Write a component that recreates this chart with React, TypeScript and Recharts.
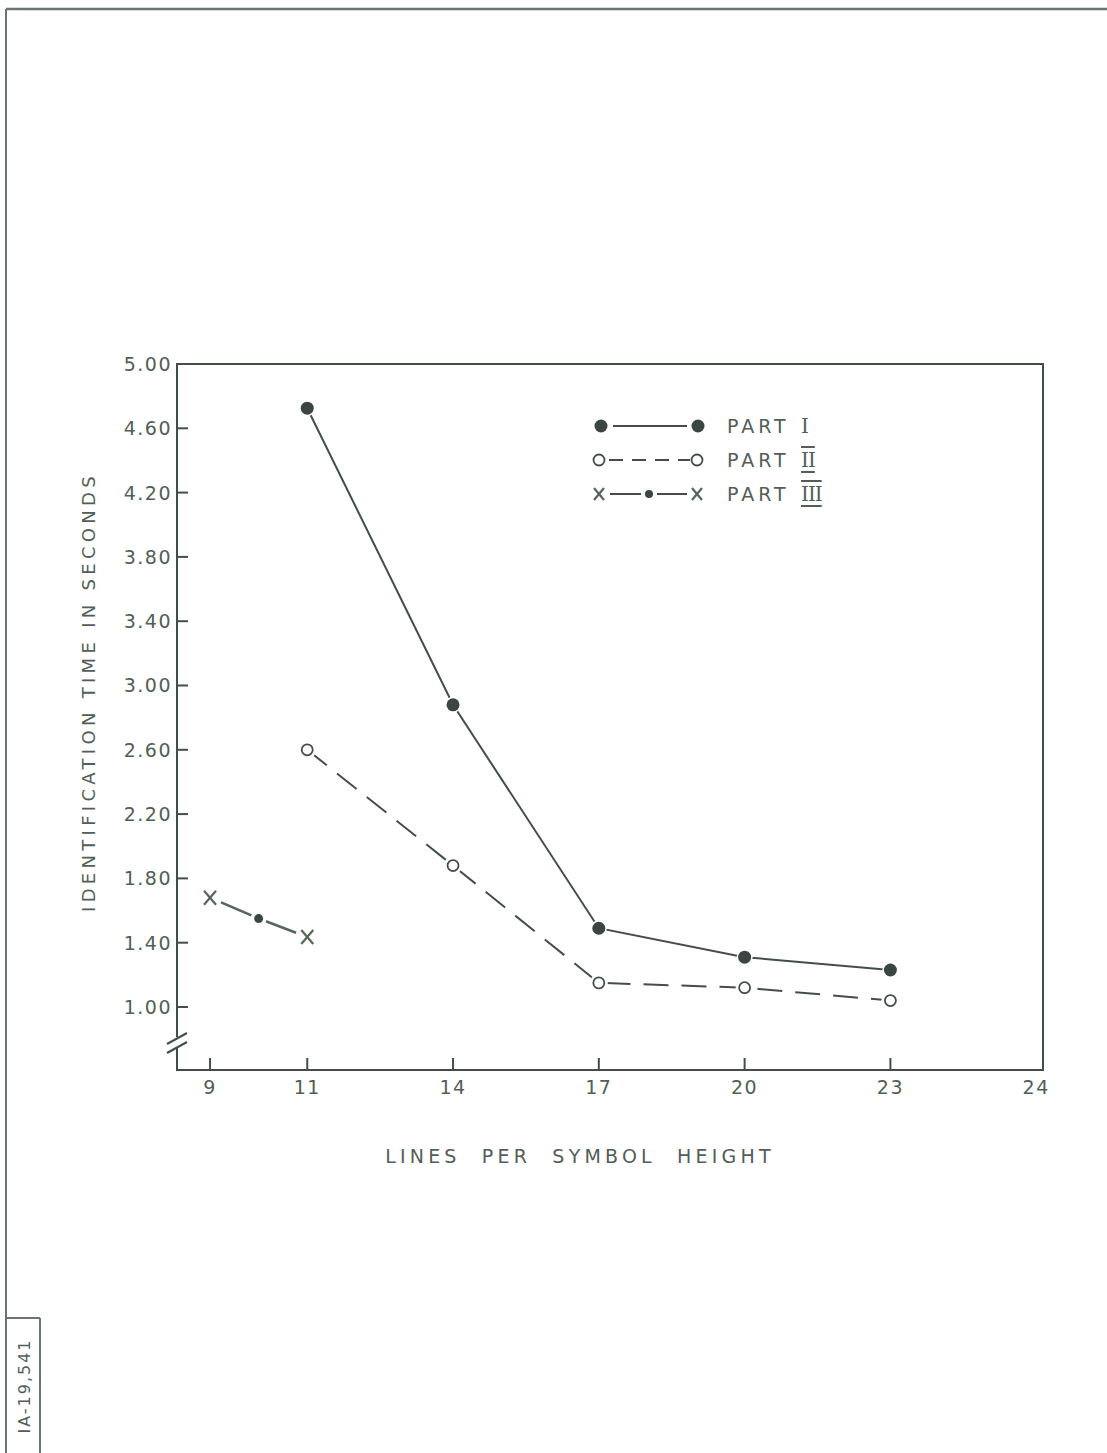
import React from "react";
import { LineChart, Line, XAxis, YAxis, ReferenceArea } from "recharts";

// lines per symbol height (24 sits where 26 would be on the scale)
const partOneX = [11, 14, 17, 20, 23];
const partOneY = [4.725, 2.88, 1.49, 1.31, 1.23];
const partTwoX = [11, 14, 17, 20, 23];
const partTwoY = [2.6, 1.88, 1.15, 1.12, 1.04];
const partThreeX = [9, 10, 11];
const partThreeY = [1.68, 1.55, 1.435];

const xTicks = [9, 11, 14, 17, 20, 23, 26];
const xTickLabels = ["9", "11", "14", "17", "20", "23", "24"];
const yTicks = [1.0, 1.4, 1.8, 2.2, 2.6, 3.0, 3.4, 3.8, 4.2, 4.6, 5.0];
const xDomain = [8.32, 26.14];
const yDomain = [0.608, 5.0];

const INK = "#434e47";
const TEXT = "#525e56";
const FONT = "'DejaVu Sans', sans-serif";

const toRows = (xs: number[], ys: number[]) => xs.map((x, i) => ({ x, y: ys[i] }));
const partOne = toRows(partOneX, partOneY);
const partTwo = toRows(partTwoX, partTwoY);
const partThree = toRows(partThreeX, partThreeY);

function YTick(props: any) {
  const { x, y, payload } = props;
  const v = payload.value as number;
  return (
    <g>
      {v < 4.99 && <line x1={x} x2={x + 11} y1={y} y2={y} stroke={INK} strokeWidth={2} />}
      <text x={x - 5} y={y} textAnchor="end" dominantBaseline="central" fill={TEXT}
        fontFamily={FONT} fontSize={19} letterSpacing={1.5}>
        {v.toFixed(2)}
      </text>
    </g>
  );
}

function XTick(props: any) {
  const { x, y, payload } = props;
  const i = xTicks.indexOf(payload.value);
  return (
    <g>
      {payload.value < 25 && <line x1={x} x2={x} y1={y} y2={y - 12} stroke={INK} strokeWidth={2} />}
      <text x={x} y={y + 17} textAnchor="middle" dominantBaseline="central" fill={TEXT}
        fontFamily={FONT} fontSize={19} letterSpacing={1.5}>
        {xTickLabels[i]}
      </text>
    </g>
  );
}

const filledDot = (p: any) => (
  <g key={`a${p.index}`}>
    <circle cx={p.cx} cy={p.cy} r={8} fill="#fff" />
    <circle cx={p.cx} cy={p.cy} r={6.5} fill="#3c4640" />
  </g>
);
const openDot = (p: any) => (
  <g key={`b${p.index}`}>
    <circle cx={p.cx} cy={p.cy} r={9} fill="#fff" />
    <circle cx={p.cx} cy={p.cy} r={5.5} fill="#fff" stroke={INK} strokeWidth={1.8} />
  </g>
);
const crossDot = (p: any) => {
  const end = p.index === 0 || p.index === partThreeX.length - 1;
  return (
    <g key={`c${p.index}`}>
      <circle cx={p.cx} cy={p.cy} r={end ? 12 : 8} fill="#fff" />
      {end ? (
        <g stroke="#56675a" strokeWidth={2.2}>
          <line x1={p.cx - 6} y1={p.cy - 7} x2={p.cx + 6} y2={p.cy + 7} />
          <line x1={p.cx + 6} y1={p.cy - 7} x2={p.cx - 6} y2={p.cy + 7} />
        </g>
      ) : (
        <circle cx={p.cx} cy={p.cy} r={4.5} fill="#3c4640" />
      )}
    </g>
  );
};

const legendRows = [
  { name: "PART", num: "I", y: 426 },
  { name: "PART", num: "II", y: 460 },
  { name: "PART", num: "III", y: 494 },
];

function Overlay() {
  return (
    <svg width={1107} height={1453} style={{ position: "absolute", left: 0, top: 0, pointerEvents: "none" }}>
      {/* page frame */}
      <line x1={6} y1={9} x2={1107} y2={9} stroke="#6a756d" strokeWidth={2.5} />
      <line x1={6} y1={9} x2={6} y2={1453} stroke="#6a756d" strokeWidth={2} />
      <line x1={6} y1={1318} x2={40} y2={1318} stroke="#6a756d" strokeWidth={2} />
      <line x1={40} y1={1318} x2={40} y2={1453} stroke="#6a756d" strokeWidth={2} />
      <text transform="translate(24,1386) rotate(-90)" textAnchor="middle" dominantBaseline="central"
        fill={TEXT} fontFamily={FONT} fontSize={16} letterSpacing={2}>
        IA-19,541
      </text>

      {/* axis break */}
      <rect x={172} y={1037} width={10} height={11} fill="#fff" />
      <line x1={167} y1={1044} x2={187} y2={1033} stroke={INK} strokeWidth={2} />
      <line x1={167} y1={1053} x2={187} y2={1042} stroke={INK} strokeWidth={2} />

      {/* axis titles */}
      <text transform="translate(88,692) rotate(-90)" textAnchor="middle" dominantBaseline="central"
        fill={TEXT} fontFamily={FONT} fontSize={18} letterSpacing={4.3}>
        IDENTIFICATION TIME IN SECONDS
      </text>
      <text x={580} y={1156} textAnchor="middle" dominantBaseline="central" fill={TEXT}
        fontFamily={FONT} fontSize={19} letterSpacing={4.2} wordSpacing={11}>
        LINES PER SYMBOL HEIGHT
      </text>

      {/* legend */}
      <g>
        <circle cx={601} cy={426} r={6.5} fill="#3c4640" />
        <line x1={613} x2={687} y1={426} y2={426} stroke={INK} strokeWidth={2} />
        <circle cx={698} cy={426} r={6.5} fill="#3c4640" />

        <circle cx={599} cy={460} r={5.5} fill="#fff" stroke={INK} strokeWidth={1.8} />
        <line x1={609} x2={690} y1={460} y2={460} stroke={INK} strokeWidth={2} strokeDasharray="14 9" />
        <circle cx={697} cy={460} r={5.5} fill="#fff" stroke={INK} strokeWidth={1.8} />

        <g stroke="#56675a" strokeWidth={2.2}>
          <line x1={594} y1={488} x2={604} y2={500} />
          <line x1={604} y1={488} x2={594} y2={500} />
          <line x1={692} y1={488} x2={702} y2={500} />
          <line x1={702} y1={488} x2={692} y2={500} />
        </g>
        <line x1={610} x2={641} y1={494} y2={494} stroke={INK} strokeWidth={2} />
        <circle cx={649} cy={494} r={4} fill="#3c4640" />
        <line x1={657} x2={687} y1={494} y2={494} stroke={INK} strokeWidth={2} />

        {legendRows.map((r) => (
          <g key={r.num}>
            <text x={727} y={r.y} dominantBaseline="central" fill={TEXT} fontFamily={FONT}
              fontSize={19} letterSpacing={4}>
              {r.name}
            </text>
            <text x={801} y={r.y} dominantBaseline="central" fill={TEXT}
              fontFamily="'DejaVu Serif', serif" fontSize={20} letterSpacing={-1}
              textDecoration={r.num.length > 1 ? "underline overline" : undefined}>
              {r.num}
            </text>
          </g>
        ))}
      </g>
    </svg>
  );
}

export default function App() {
  return (
    <div style={{ position: "absolute", left: 0, top: 0, width: 1107, height: 1453, background: "#fff" }}>
      <LineChart width={1107} height={1453} margin={{ top: 364, right: 64, left: 97, bottom: 343 }}>
        <XAxis type="number" dataKey="x" domain={xDomain} ticks={xTicks} interval={0}
          allowDataOverflow axisLine={{ stroke: INK, strokeWidth: 2 }} tickLine={false}
          tickSize={0} tickMargin={0} height={40} tick={(p: any) => <XTick {...p} />} />
        <YAxis type="number" dataKey="y" domain={yDomain} ticks={yTicks} interval={0}
          allowDataOverflow axisLine={{ stroke: INK, strokeWidth: 2 }} tickLine={false}
          tickSize={0} tickMargin={0} width={80} tick={(p: any) => <YTick {...p} />} />
        <ReferenceArea x1={xDomain[0]} x2={xDomain[1]} y1={yDomain[0]} y2={yDomain[1]}
          fill="none" fillOpacity={0} stroke={INK} strokeWidth={2} ifOverflow="visible" />
        <Line data={partOne} dataKey="y" type="linear" stroke={INK} strokeWidth={2}
          dot={filledDot} activeDot={false} isAnimationActive={false} />
        <Line data={partTwo} dataKey="y" type="linear" stroke={INK} strokeWidth={2}
          strokeDasharray="25 13" dot={openDot} activeDot={false} isAnimationActive={false} />
        <Line data={partThree} dataKey="y" type="linear" stroke="#56675a" strokeWidth={2.6}
          dot={crossDot} activeDot={false} isAnimationActive={false} />
      </LineChart>
      <Overlay />
    </div>
  );
}
